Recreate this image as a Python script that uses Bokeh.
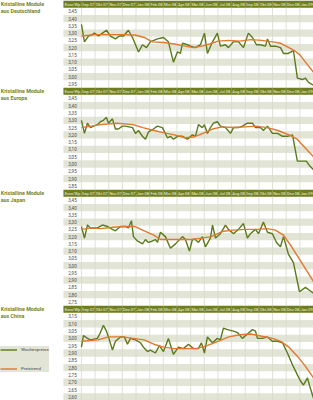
from bokeh.plotting import figure
from bokeh.models import Range1d, Legend, LegendItem
from bokeh.layouts import column
from bokeh.core.properties import value
from bokeh.embed import file_html
from bokeh.resources import INLINE

# ---------------- data ----------------
MONTHS = ["Sep.07", "Okt.07", "Nov.07", "Dez.07", "Jan.08", "Feb.08", "Mrz.08", "Apr.08",
          "Mai.08", "Jun.08", "Jul.08", "Aug.08", "Sep.08", "Okt.08", "Nov.08", "Dez.08", "Jan.09"]
UNIT = "Euro/Wp"
SERIES_NAMES = ["Wochenpreise", "Preistrend"]

# x values: months since 1 Sep 2007
de_title = ["Kristalline Module", "aus Deutschland"]
de_ticks = [3.45, 3.40, 3.35, 3.30, 3.25, 3.20, 3.15, 3.10, 3.05, 3.00, 2.95]
de_wx = [0, 0.22, 0.51, 0.81, 0.95, 1.25, 1.54, 1.83, 2.12, 2.49, 2.78, 3.08, 3.44, 3.74, 3.96,
         4.18, 4.47, 4.76, 5.05, 5.57, 6.01, 6.37, 6.74, 7.03, 7.25, 7.40, 7.77, 7.99, 8.35, 8.72,
         9.01, 9.23, 9.60, 9.96, 10.18, 10.55, 10.77, 11.14, 11.50, 11.87, 12.23, 12.53, 12.82,
         13.11, 13.48, 13.63, 13.85, 14.21, 14.58, 14.80, 15.16, 15.53, 15.82, 16.19, 16.41, 16.63, 17.0]
de_wp = [3.36, 3.24, 3.28, 3.29, 3.30, 3.28, 3.30, 3.32, 3.28, 3.26, 3.28, 3.28, 3.32, 3.27, 3.22,
         3.17, 3.22, 3.20, 3.24, 3.26, 3.27, 3.24, 3.10, 3.17, 3.16, 3.23, 3.22, 3.21, 3.20, 3.22,
         3.30, 3.16, 3.24, 3.30, 3.21, 3.22, 3.20, 3.24, 3.24, 3.20, 3.30, 3.27, 3.22, 3.22, 3.21,
         3.26, 3.21, 3.21, 3.20, 3.16, 3.16, 3.18, 2.99, 2.98, 2.99, 2.96, 2.94]
de_tx = [0, 1.0, 2.0, 3.0, 4.0, 4.6, 5.2, 6.0, 6.8, 7.6, 8.2, 8.8, 9.4, 10.0, 10.8, 11.6, 12.4,
         13.2, 14.0, 14.6, 15.2, 15.6, 16.0, 16.5, 17.0]
de_tr = [3.28, 3.29, 3.29, 3.29, 3.285, 3.27, 3.24, 3.235, 3.225, 3.21, 3.20, 3.21, 3.225, 3.245,
         3.25, 3.245, 3.255, 3.25, 3.24, 3.23, 3.20, 3.18, 3.15, 3.09, 3.03]

eu_title = ["Kristalline Module", "aus Europa"]
eu_ticks = [3.45, 3.40, 3.35, 3.30, 3.25, 3.20, 3.15, 3.10, 3.05, 3.00, 2.95, 2.90, 2.85]
eu_wx = [0, 0.22, 0.44, 0.66, 0.88, 1.17, 1.39, 1.61, 1.83, 1.98, 2.27, 2.49, 2.71, 3.00, 3.22,
         3.74, 3.96, 4.18, 4.47, 4.69, 4.91, 5.27, 5.57, 5.93, 6.30, 6.52, 6.74, 7.03, 7.40, 7.77,
         8.13, 8.35, 8.57, 8.86, 9.01, 9.23, 9.45, 9.67, 9.96, 10.18, 10.55, 10.92, 11.14, 11.50,
         11.79, 12.16, 12.53, 12.75, 13.11, 13.33, 13.63, 13.99, 14.36, 14.73, 15.09, 15.46, 15.82,
         16.19, 16.48, 16.70, 17.0]
eu_wp = [3.30, 3.21, 3.28, 3.25, 3.26, 3.27, 3.29, 3.30, 3.32, 3.28, 3.31, 3.24, 3.24, 3.26, 3.26,
         3.25, 3.21, 3.23, 3.19, 3.17, 3.22, 3.24, 3.26, 3.25, 3.18, 3.19, 3.17, 3.19, 3.19, 3.17,
         3.20, 3.19, 3.27, 3.25, 3.27, 3.21, 3.25, 3.28, 3.29, 3.26, 3.25, 3.21, 3.25, 3.25, 3.26,
         3.28, 3.28, 3.25, 3.25, 3.23, 3.26, 3.21, 3.21, 3.19, 3.19, 3.20, 3.02, 3.02, 3.02, 2.99, 2.96]
eu_tx = [0, 1.4, 2.6, 3.8, 4.5, 5.3, 6.0, 6.8, 7.6, 8.2, 8.9, 9.6, 10.3, 11.2, 12.0, 12.8, 13.6,
         14.4, 15.2, 15.8, 16.4, 17.0]
eu_tr = [3.25, 3.27, 3.28, 3.27, 3.25, 3.23, 3.215, 3.20, 3.18, 3.185, 3.21, 3.24, 3.255, 3.25,
         3.255, 3.26, 3.25, 3.23, 3.20, 3.17, 3.11, 3.05]

jp_title = ["Kristalline Module", "aus Japan"]
jp_ticks = [3.45, 3.40, 3.35, 3.30, 3.25, 3.20, 3.15, 3.10, 3.05, 3.00, 2.95, 2.90, 2.85, 2.80, 2.75]
jp_wx = [0, 0.22, 0.44, 0.66, 0.95, 1.17, 1.54, 1.90, 2.27, 2.49, 2.86, 3.22, 3.44, 3.66, 3.81,
         4.10, 4.47, 4.69, 4.91, 5.20, 5.42, 5.57, 5.79, 6.15, 6.52, 6.89, 7.40, 7.62, 7.91, 8.13,
         8.35, 8.57, 8.86, 9.08, 9.45, 9.60, 9.82, 10.18, 10.55, 10.77, 11.14, 11.50, 11.87, 12.16,
         12.38, 12.75, 12.97, 13.33, 13.63, 13.99, 14.29, 14.58, 14.80, 15.16, 15.53, 15.97, 16.41,
         16.70, 17.0]
jp_wp = [3.27, 3.19, 3.28, 3.26, 3.26, 3.26, 3.28, 3.27, 3.25, 3.24, 3.27, 3.27, 3.26, 3.31, 3.20,
         3.17, 3.15, 3.18, 3.16, 3.17, 3.18, 3.16, 3.23, 3.20, 3.12, 3.15, 3.20, 3.18, 3.10, 3.18,
         3.18, 3.16, 3.20, 3.13, 3.19, 3.28, 3.19, 3.22, 3.28, 3.25, 3.22, 3.25, 3.29, 3.19, 3.22,
         3.25, 3.22, 3.30, 3.23, 3.22, 3.16, 3.13, 3.20, 3.08, 3.02, 2.82, 2.85, 2.83, 2.81]
jp_tx = [0, 0.7, 1.4, 2.3, 3.2, 3.9, 4.6, 5.3, 5.8, 6.4, 7.2, 8.0, 8.8, 9.5, 10.3, 11.1, 12.0,
         12.9, 13.6, 14.2, 14.8, 15.4, 16.2, 17.0]
jp_tr = [3.25, 3.26, 3.255, 3.265, 3.27, 3.27, 3.24, 3.21, 3.18, 3.18, 3.18, 3.18, 3.19, 3.20,
         3.235, 3.245, 3.25, 3.25, 3.255, 3.245, 3.21, 3.13, 3.01, 2.89]

cn_title = ["Kristalline Module", "aus China"]
cn_ticks = [3.15, 3.10, 3.05, 3.00, 2.95, 2.90, 2.85, 2.80, 2.75, 2.70, 2.65, 2.60]
cn_wx = [0, 0.15, 0.44, 0.66, 1.17, 1.39, 1.61, 1.83, 1.98, 2.27, 2.49, 2.86, 3.15, 3.37, 3.59,
         3.96, 4.32, 4.54, 4.84, 5.05, 5.42, 5.71, 6.01, 6.37, 6.74, 7.11, 7.47, 7.84, 8.21, 8.57,
         8.79, 9.01, 9.23, 9.60, 9.96, 10.18, 10.40, 10.70, 11.14, 11.43, 11.79, 12.16, 12.53,
         12.75, 12.89, 13.26, 13.63, 13.99, 14.36, 14.73, 15.09, 15.46, 15.82, 16.04, 16.26,
         16.56, 16.70, 17.0]
cn_wp = [2.94, 3.02, 3.00, 2.99, 3.00, 3.04, 3.09, 3.05, 3.01, 2.92, 2.98, 3.01, 3.01, 2.96, 3.00,
         2.99, 2.97, 2.94, 2.91, 2.92, 2.90, 2.95, 2.91, 3.00, 2.89, 2.94, 2.93, 2.96, 2.93, 2.93,
         2.97, 2.90, 3.01, 2.97, 3.00, 2.99, 3.07, 3.06, 3.05, 3.04, 3.00, 3.03, 3.06, 3.05, 3.00,
         3.00, 3.01, 2.98, 2.98, 2.97, 2.90, 2.82, 2.75, 2.71, 2.68, 2.73, 2.68, 2.59]
cn_tx = [0, 1.2, 2.0, 3.0, 3.8, 4.6, 5.3, 6.0, 6.8, 7.6, 8.4, 9.2, 10.0, 10.8, 11.6, 12.4, 13.2,
         14.0, 14.6, 15.2, 15.8, 16.4, 17.0]
cn_tr = [2.98, 2.99, 3.01, 3.01, 3.00, 2.99, 2.96, 2.94, 2.93, 2.93, 2.93, 2.95, 2.98, 3.01,
         3.025, 3.03, 3.015, 3.00, 2.98, 2.94, 2.88, 2.81, 2.73]

# ---------------- style ----------------
FONT = "Roboto"
OLIVE = "#6e7e1e"
TITLE_C = "#74842a"
STRIPE = "#e2e4d6"
VLINE = "#d8dacb"
GREEN = "#5a7a1c"
ORANGE = "#e2782e"
LABEL_C = "#4a4a4a"
ROW = 0.05
X0 = -5.93   # left page edge (month units)
XL = -1.32   # left edge of label column
W = 313


def make_panel(title, ticks, wx, wp, tx, tr, height, with_legend=False):
    top, bot = ticks[0], ticks[-1]
    hb = top + ROW / 2
    ht = hb + ROW
    p = figure(width=W, height=height, x_range=Range1d(X0, 17), y_range=Range1d(bot - ROW / 2, ht),
               output_backend="svg", toolbar_location=None, min_border=0,
               x_axis_location=None, y_axis_location=None, outline_line_color=None)
    p.grid.visible = False
    odd = [t for i, t in enumerate(ticks) if i % 2 == 1]
    p.quad(left=XL, right=17, bottom=[t - ROW / 2 for t in odd], top=[t + ROW / 2 for t in odd],
           fill_color=STRIPE, line_color=None)
    p.quad(left=XL, right=17, bottom=hb, top=ht, fill_color=OLIVE, line_color=None)
    p.segment(x0=list(range(17)), y0=bot - ROW / 2, x1=list(range(17)), y1=hb,
              line_color=VLINE, line_width=0.8)
    p.segment(x0=list(range(17)), y0=hb, x1=list(range(17)), y1=ht,
              line_color="#8e9a4a", line_width=0.8)
    labels = [f"{t:.2f}".replace(".", ",") for t in ticks]
    p.text(x=XL / 2, y=ticks, text=labels, text_font=value(FONT), text_font_size="4.5px",
           text_align="center", text_baseline="middle", text_color=LABEL_C)
    p.text(x=[XL / 2] + [i + 0.5 for i in range(17)], y=(hb + ht) / 2, text=[UNIT] + MONTHS,
           text_font=value(FONT), text_font_size="4.0px", text_align="center",
           text_baseline="middle", text_color="#f3f1de")
    p.text(x=X0 + 0.02, y=[(hb + ht) / 2, top], text=title, text_font=value(FONT),
           text_font_size="5.3px", text_font_style="bold", text_align="left",
           text_baseline="middle", text_color=TITLE_C)
    g = p.line(wx, wp, line_color=GREEN, line_width=1.4)
    o = p.line(tx, tr, line_color=ORANGE, line_width=1.4)
    if with_legend:
        leg = Legend(items=[LegendItem(label=SERIES_NAMES[0], renderers=[g]),
                            LegendItem(label=SERIES_NAMES[1], renderers=[o])],
                     location=(0, 28), orientation="vertical", padding=5, spacing=12,
                     glyph_width=17, glyph_height=7, label_height=7, label_standoff=4,
                     margin=0, background_fill_color=STRIPE, background_fill_alpha=1.0,
                     border_line_color=None, label_text_font=FONT, label_text_font_size="4.4px",
                     label_text_color=LABEL_C)
        p.add_layout(leg)
    return p


p1 = make_panel(de_title, de_ticks, de_wx, de_wp, de_tx, de_tr, 87)
p2 = make_panel(eu_title, eu_ticks, eu_wx, eu_wp, eu_tx, eu_tr, 102)
p3 = make_panel(jp_title, jp_ticks, jp_wx, jp_wp, jp_tx, jp_tr, 116)
p4 = make_panel(cn_title, cn_ticks, cn_wx, cn_wp, cn_tx, cn_tr, 95, with_legend=True)

layout = column(p1, p2, p3, p4, spacing=0)
open("out.html", "w").write(file_html(layout, INLINE))
